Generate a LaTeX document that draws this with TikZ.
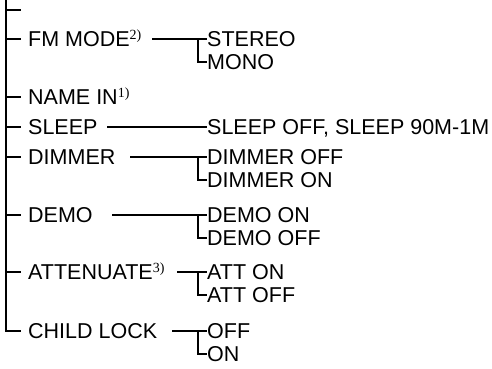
\documentclass[tikz,border=0pt]{standalone}
\usepackage{fontspec}
\setmainfont{Liberation Sans}
\newfontfamily\supf{Liberation Serif}
\newcommand{\fn}[1]{\raisebox{7pt}{\supf\fontsize{14}{14}\selectfont #1}}
\begin{document}
\begin{tikzpicture}[x=1pt,y=-1pt,
  lbl/.style={anchor=west,inner sep=0pt,text height=15.4pt,text depth=0pt,font=\fontsize{21.5}{23}\selectfont},
  spine/.style={line width=1.5pt},
  conn/.style={line width=1.2pt}]
\useasboundingbox (0,0) rectangle (492,369);
% spine coordinates
\coordinate (top) at (6,0);
\coordinate (s0) at (6,10);
\coordinate (s1) at (6,39);
\coordinate (s2) at (6,97);
\coordinate (s3) at (6,127);
\coordinate (s4) at (6,157);
\coordinate (s5) at (6,215);
\coordinate (s6) at (6,272);
\coordinate (s7) at (6,331);
\coordinate (t0) at (21,10);
\coordinate (t7) at (21,331);
% main labels
\node[lbl] (fm) at (28,39) {FM MODE\fn{2)}};
\node[lbl] (name) at (28,97) {NAME IN\fn{1)}};
\node[lbl] (sleep) at (28,127) {SLEEP};
\node[lbl] (dim) at (28,157) {DIMMER};
\node[lbl] (demo) at (28,215) {DEMO};
\node[lbl] (att) at (28,272) {ATTENUATE\fn{3)}};
\node[lbl] (child) at (28,331) {CHILD LOCK};
% sub labels
\node[lbl] (stereo) at (207,39) {STEREO};
\node[lbl] (mono) at (207,62) {MONO};
\node[lbl] (sleepoff) at (207,127) {SLEEP OFF, SLEEP 90M-1M};
\node[lbl] (dimoff) at (207,157) {DIMMER OFF};
\node[lbl] (dimon) at (207,180) {DIMMER ON};
\node[lbl] (demoon) at (207,215) {DEMO ON};
\node[lbl] (demooff) at (207,238) {DEMO OFF};
\node[lbl] (atton) at (207,272) {ATT ON};
\node[lbl] (attoff) at (207,295) {ATT OFF};
\node[lbl] (off) at (207,331) {OFF};
\node[lbl] (on) at (207,354) {ON};
% spine
\draw[spine] (top) -- (s7) -- (t7);
\draw[conn] (s0) -- (t0);
\foreach \s/\n in {s1/fm,s2/name,s3/sleep,s4/dim,s5/demo,s6/att}
  \draw[conn] (\s) -- (\s -| 21,0);
% connector start points
\coordinate (fmL) at (152,39);
\coordinate (slL) at (107,127);
\coordinate (dmL) at (130,157);
\coordinate (deL) at (112,215);
\coordinate (atL) at (177,272);
\coordinate (chL) at (172,331);
\coordinate (b1) at (198,39);
\coordinate (b4) at (198,157);
\coordinate (b5) at (198,215);
\coordinate (b6) at (198,272);
\coordinate (b7) at (198,331);
\draw[conn] (fmL) -- (stereo.west);
\draw[conn] (b1) |- (mono.west);
\draw[conn] (slL) -- (sleepoff.west);
\draw[conn] (dmL) -- (dimoff.west);
\draw[conn] (b4) |- (dimon.west);
\draw[conn] (deL) -- (demoon.west);
\draw[conn] (b5) |- (demooff.west);
\draw[conn] (atL) -- (atton.west);
\draw[conn] (b6) |- (attoff.west);
\draw[conn] (chL) -- (off.west);
\draw[conn] (b7) |- (on.west);
\end{tikzpicture}
\end{document}
